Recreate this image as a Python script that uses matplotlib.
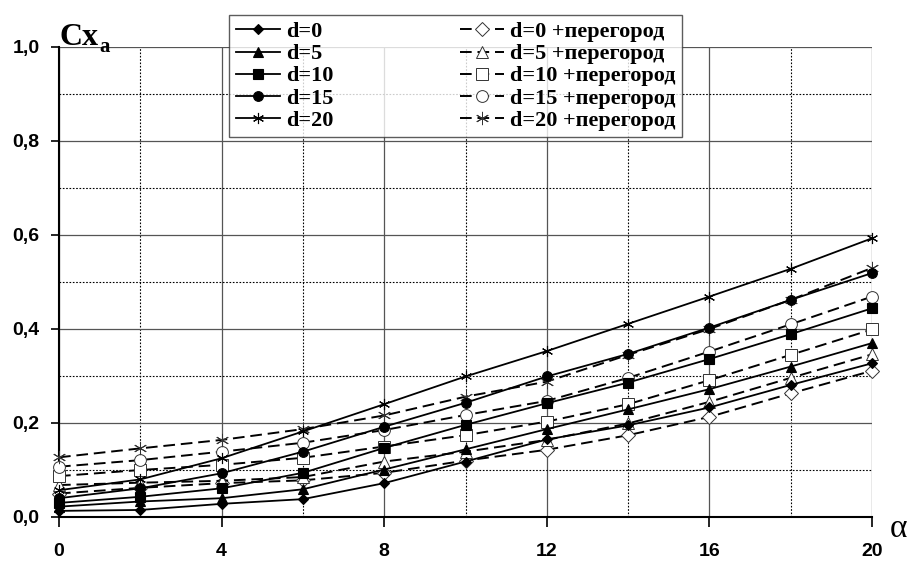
import matplotlib
matplotlib.use("Agg")
import matplotlib.pyplot as plt
from matplotlib.ticker import MultipleLocator

# angle of attack
alpha = [0, 2, 4, 6, 8, 10, 12, 14, 16, 18, 20]

# Cxa without partition
cx_d0 = [0.013, 0.015, 0.028, 0.038, 0.072, 0.118, 0.165, 0.195, 0.233, 0.281, 0.327]
cx_d5 = [0.022, 0.033, 0.040, 0.059, 0.101, 0.144, 0.187, 0.229, 0.272, 0.320, 0.370]
cx_d10 = [0.030, 0.043, 0.061, 0.094, 0.147, 0.196, 0.242, 0.286, 0.336, 0.389, 0.444]
cx_d15 = [0.040, 0.061, 0.093, 0.139, 0.192, 0.243, 0.299, 0.347, 0.403, 0.462, 0.519]
cx_d20 = [0.057, 0.080, 0.125, 0.182, 0.240, 0.299, 0.353, 0.411, 0.469, 0.528, 0.593]

# Cxa with partition
cxp_d0 = [0.050, 0.062, 0.072, 0.078, 0.094, 0.120, 0.143, 0.174, 0.213, 0.263, 0.311]
cxp_d5 = [0.068, 0.073, 0.077, 0.085, 0.118, 0.139, 0.164, 0.199, 0.245, 0.296, 0.346]
cxp_d10 = [0.087, 0.100, 0.111, 0.126, 0.150, 0.174, 0.203, 0.240, 0.291, 0.345, 0.399]
cxp_d15 = [0.107, 0.121, 0.139, 0.158, 0.185, 0.217, 0.247, 0.296, 0.352, 0.410, 0.469]
cxp_d20 = [0.127, 0.146, 0.164, 0.187, 0.216, 0.256, 0.288, 0.345, 0.400, 0.462, 0.530]

labels = ["d=0", "d=5", "d=10", "d=15", "d=20"]
star = (6, 2, 0)
markers = ["D", "^", "s", "o", star]
msizes = [5.5, 7, 6.5, 7, 8]

solid_series = [cx_d0, cx_d5, cx_d10, cx_d15, cx_d20]
dashed_series = [cxp_d0, cxp_d5, cxp_d10, cxp_d15, cxp_d20]

fig = plt.figure(figsize=(9.14, 5.61), dpi=100)
ax = fig.add_axes([59 / 914, 1 - 517 / 561, 813 / 914, 470 / 561])

handles = []
for ys, lab, m, ms in zip(solid_series, labels, markers, msizes):
    h, = ax.plot(alpha, ys, color="black", lw=1.3, marker=m, ms=ms,
                 mfc="black", mec="black", mew=0.8, label=lab, zorder=4,
                 clip_on=False)
    handles.append(h)

for ys, lab, m, ms in zip(dashed_series, labels, markers, msizes):
    h, = ax.plot(alpha, ys, color="black", lw=1.4, ls=(0, (6, 3)), marker=m,
                 ms=ms + 1.5, mfc="white", mec="#333333", mew=0.7,
                 label=lab + " +перегород", zorder=3, clip_on=False)
    handles.append(h)

ax.set_xlim(0, 20)
ax.set_ylim(0, 1.0)

ax.xaxis.set_major_locator(MultipleLocator(4))
ax.xaxis.set_minor_locator(MultipleLocator(2))
ax.yaxis.set_major_locator(MultipleLocator(0.2))
ax.yaxis.set_minor_locator(MultipleLocator(0.1))

ax.grid(which="major", color="#555555", lw=0.9, ls="-")
ax.grid(which="minor", color="black", lw=0.8, ls=(0, (1.5, 1.5)))
ax.set_axisbelow(True)

for s in ["top", "right"]:
    ax.spines[s].set_visible(False)
for s in ["left", "bottom"]:
    ax.spines[s].set_linewidth(1.5)

ax.tick_params(which="minor", length=0)
ax.tick_params(axis="y", which="major", direction="out", length=6, width=1.2, pad=8)
ax.tick_params(axis="x", which="major", direction="out", length=7, width=1.2, pad=12)

ax.set_yticks([0, 0.2, 0.4, 0.6, 0.8, 1.0])
ax.set_yticklabels(["0,0", "0,2", "0,4", "0,6", "0,8", "1,0"])
for t in ax.get_xticklabels() + ax.get_yticklabels():
    t.set_fontfamily("Liberation Sans")
    t.set_fontweight("bold")
    t.set_fontsize(14)

# axis titles
fig.text(60 / 914, 1 - 45 / 561, "Cx", fontfamily="Liberation Serif",
         fontweight="bold", fontsize=23)
fig.text(99 / 914, 1 - 52 / 561, "a", fontfamily="Liberation Serif",
         fontweight="bold", fontsize=15)
fig.text(890 / 914, 1 - 537 / 561, "α", fontfamily="Liberation Serif",
         fontsize=24)

leg = ax.legend(handles=handles, ncol=2, loc="upper left",
                bbox_to_anchor=(229 / 914, 1 - 15 / 561), bbox_transform=fig.transFigure,
                prop={"family": "Liberation Serif", "weight": "bold", "size": 16},
                frameon=True, fancybox=False, edgecolor="#333333",
                handlelength=2.0, handletextpad=0.25, columnspacing=5.7,
                labelspacing=0.07, borderpad=0.3, borderaxespad=0)
leg.get_frame().set_linewidth(1.0)
leg.set_zorder(10)

fig.savefig("out.png", dpi=100)
